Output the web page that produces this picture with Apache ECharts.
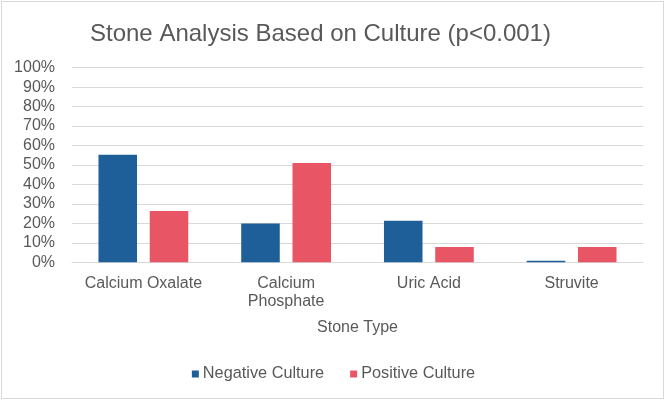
<!DOCTYPE html>
<html>
<head>
<meta charset="utf-8">
<script src="https://cdn.jsdelivr.net/npm/echarts@6/dist/echarts.min.js"></script>
<style>
html,body{margin:0;padding:0;background:#fff;}
#frame{position:absolute;left:1px;top:1px;width:661px;height:396px;border:1px solid #d9d9d9;}
#chart{position:absolute;left:0;top:0;width:667px;height:402px;}
</style>
</head>
<body>
<div id="frame"></div>
<div id="chart"></div>
<script>
const categories = ['Calcium Oxalate', 'Calcium\nPhosphate', 'Uric Acid', 'Struvite'];
const negativeCulture = [55.3, 19.9, 21.3, 0.8];
const positiveCulture = [26.3, 51.0, 7.9, 7.9];
const yTicks = [0, 10, 20, 30, 40, 50, 60, 70, 80, 90, 100];

const chart = echarts.init(document.getElementById('chart'), null, {renderer: 'canvas'});
const font = 'Liberation Sans, Arial, sans-serif';
chart.setOption({
  backgroundColor: 'transparent',
  animation: false,
  title: {
    text: 'Stone Analysis Based on Culture (p<0.001)',
    left: 85,
    top: 17,
    textStyle: {fontFamily: font, fontSize: 24, fontWeight: 'normal', color: '#595959'}
  },
  legend: {
    data: ['Negative Culture', 'Positive Culture'],
    bottom: 15,
    left: 'center',
    itemWidth: 7,
    itemHeight: 7,
    itemGap: 26,
    icon: 'rect',
    textStyle: {fontFamily: font, fontSize: 16.3, color: '#595959', padding: [0, 0, 0, -1]}
  },
  grid: {left: 72, right: 24, top: 67.7, bottom: 139.7, containLabel: false},
  xAxis: {
    type: 'category',
    data: categories,
    name: 'Stone Type',
    nameLocation: 'middle',
    nameGap: 57,
    nameTextStyle: {fontFamily: font, fontSize: 16, color: '#595959'},
    axisLine: {lineStyle: {color: '#d9d9d9'}},
    axisTick: {show: false},
    axisLabel: {fontFamily: font, fontSize: 16, color: '#595959', margin: 12, lineHeight: 18, interval: 0}
  },
  yAxis: {
    type: 'value',
    min: yTicks[0],
    max: yTicks[yTicks.length - 1],
    interval: 10,
    axisLine: {show: false},
    axisTick: {show: false},
    splitLine: {lineStyle: {color: '#d9d9d9'}},
    axisLabel: {fontFamily: font, fontSize: 16, color: '#595959', margin: 17, formatter: v => v + '%'}
  },
  series: [
    {name: 'Negative Culture', type: 'bar', data: negativeCulture, barWidth: '27%', barGap: '33%',
     itemStyle: {color: '#1f5f99'}},
    {name: 'Positive Culture', type: 'bar', data: positiveCulture, barWidth: '27%', barGap: '33%',
     itemStyle: {color: '#e85565'}}
  ]
});
</script>
</body>
</html>
